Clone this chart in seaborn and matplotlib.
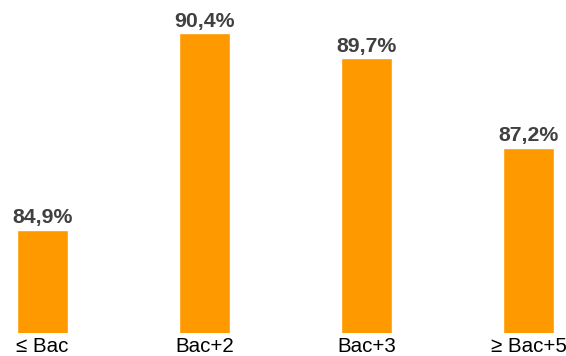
import matplotlib
matplotlib.use("Agg")
import matplotlib.pyplot as plt
import seaborn as sns
import pandas as pd

categories = ["≤ Bac", "Bac+2", "Bac+3", "≥ Bac+5"]
values = [84.9, 90.4, 89.7, 87.2]
value_labels = ["84,9%", "90,4%", "89,7%", "87,2%"]

sns.set_theme(style="white")
plt.rcParams['font.family'] = ['Liberation Sans', 'DejaVu Sans']

df = pd.DataFrame({"cat": categories, "val": values})

fig = plt.figure(figsize=(5.66, 3.56), dpi=100)
ax = fig.add_axes([0, 0.0646, 1, 0.9016])
sns.barplot(data=df, x="cat", y="val", color="#FF9900", saturation=1,
            width=0.315, ax=ax)
ax.set_ylim(82, 91)
ax.set_xlim(-0.262, 3.231)
for i, (v, lab) in enumerate(zip(values, value_labels)):
    ax.text(i, v + 0.06, lab, ha="center", va="bottom", fontsize=15.3,
            fontweight="bold", color="#404040")
ax.set_xlabel("")
ax.set_ylabel("")
ax.set_yticks([])
ax.tick_params(axis="x", length=0, pad=3, labelsize=14.8, labelcolor="#000000")
for s in ax.spines.values():
    s.set_visible(False)
fig.savefig("out.png", dpi=100)
